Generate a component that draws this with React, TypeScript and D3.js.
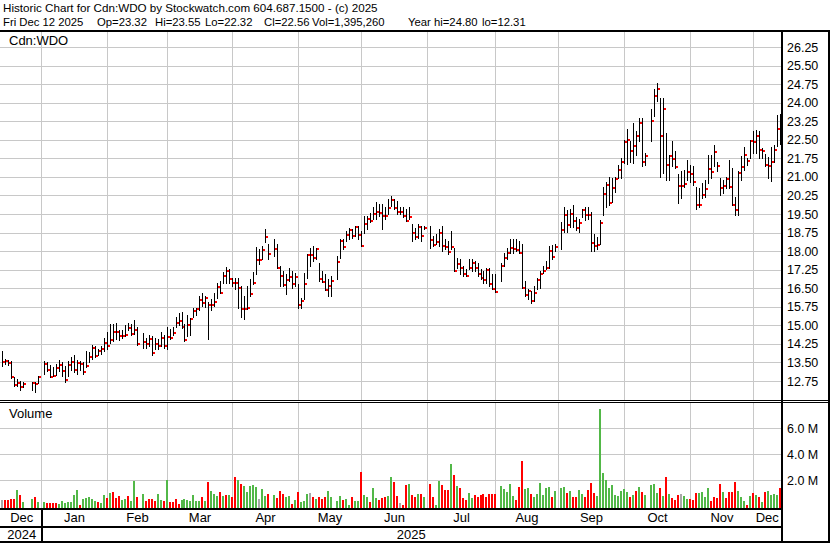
import React from "react";
import * as d3 from "d3";

// ---- Data (one slot per weekday, Dec 13 2024 .. Dec 12 2025; null = market holiday) ----
const highs: (number | null)[] = [
  // Dec 2024
  13.95, 13.62, 13.6, 13.55, 12.9, 12.82, 12.75, 12.72, null, null, 12.72, 12.7, 12.95,
  // Jan
  null, 13.55, 13.5, 13.38, 13.3, 13.45, 13.6, 13.5, 13.35, 13.55, 13.72, 13.82, 13.6, 13.55, 13.5, 13.95, 13.92, 14.2, 14.15, 14.05, 14.15, 14.5, 14.75,
  // Feb
  15.05, 15.05, 15.1, 14.8, 14.8, 15.0, 15.1, 15.05, 15.2, 14.95, null, 14.7, 14.5, 14.6, 14.55, 14.5, 14.45, 14.75, 14.6, 14.95,
  // Mar
  14.85, 14.95, 15.35, 15.5, 15.55, 15.05, 15.4, 15.3, 15.7, 15.7, 16.2, 16.3, 16.2, 15.95, 16.05, 16.3, 16.72, 16.8, 17.15, 17.35, 17.28,
  // Apr
  16.93, 16.93, 16.93, 16.6, 16.2, 16.6, 16.87, 17.14, 18.15, 18.08, 18.22, 18.9, 18.29, null, 18.49, 18.29, 17.4, 17.2, 17.06, 17.33, 17.2, 17.13,
  // May
  16.66, 16.12, 17.13, 17.87, 18.14, 18.21, 18.14, 17.51, 17.2, 17.06, 16.86, 17.0, null, 17.8, 18.48, 18.48, 18.82, 18.95, 18.89, 19.02, 19.02, 18.82,
  // Jun
  19.43, 19.43, 19.56, 19.77, 19.97, 19.9, 19.9, 19.77, 20.1, 20.24, 20.1, 20.03, 19.77, 19.77, 19.7, 19.77, 19.09, 18.95, 19.09, 19.02, 19.02,
  // Jul
  null, 19.02, 18.62, 18.68, 18.89, 19.02, 18.48, 18.41, 18.82, 18.14, 17.74, 17.67, 17.4, 17.26, 17.7, 17.67, 17.6, 17.53, 17.26, 17.2, 17.33, 17.33, 17.06,
  // Aug
  17.06, null, 17.53, 17.94, 18.14, 18.48, 18.48, 18.48, 18.41, 18.28, 16.79, 16.45, 16.39, 16.59, 16.92, 17.2, 17.4, 17.6, 18.2, 18.23, 18.3,
  // Sep
  null, 19.18, 19.79, 19.65, 19.72, 19.86, 19.38, 19.31, 19.72, 19.79, 19.79, 19.58, 18.7, 18.57, 19.24, 20.6, 20.81, 21.01, 20.94, 21.01, 21.49, 21.76,
  // Oct
  22.51, 22.92, 22.44, 23.19, 22.85, 23.39, 23.39, 21.96, null, 23.73, 24.55, 24.8, 24.17, 24.17, 22.78, 21.9, 22.44, 22.03, 21.12, 21.22, 21.28, 21.69, 21.49,
  // Nov
  21.42, 20.6, 20.54, 20.74, 20.88, 21.9, 21.9, 22.3, 21.62, 20.94, 20.88, 21.01, 21.69, 21.35, 20.2, 21.22, 21.83, 22.2, 21.75, 22.51,
  // Dec
  22.85, 22.9, 22.85, 22.17, 21.93, 21.8, 22.2, 22.3, 23.5, 23.55,
];

const lows: (number | null)[] = [
  13.35, 13.42, 13.38, 12.88, 12.55, 12.55, 12.4, 12.52, null, null, 12.4, 12.31, 12.68,
  null, 13.05, 13.15, 12.9, 12.95, 12.98, 13.15, 12.95, 12.7, 12.95, 13.2, 13.1, 13.05, 13.18, 13.05, 13.3, 13.5, 13.62, 13.7, 13.8, 13.85, 13.95, 14.05,
  14.3, 14.35, 14.45, 14.4, 14.5, 14.55, 14.8, 14.6, 14.65, 14.2, null, 14.1, 14.1, 14.15, 13.8, 14.05, 14.05, 14.15, 14.1, 14.05,
  14.45, 14.6, 14.95, 15.0, 14.9, 14.35, 14.55, 14.6, 15.35, 15.4, 15.6, 15.8, 15.75, 14.45, 15.6, 15.8, 16.1, 16.3, 16.7, 16.7, 16.7,
  16.6, 16.45, 15.72, 15.32, 15.25, 15.65, 16.2, 16.69, 17.07, 17.47, 17.68, 18.35, 17.68, null, 17.81, 17.31, 16.59, 16.59, 16.25, 16.79, 16.52, 16.59,
  15.71, 15.71, 16.05, 16.92, 17.4, 17.6, 17.67, 16.79, 16.75, 16.41, 16.18, 16.18, null, 16.86, 17.74, 18.07, 18.41, 18.48, 18.55, 18.62, 18.48, 18.21,
  18.75, 18.89, 19.16, 19.29, 19.29, 19.43, 18.89, 19.29, 19.49, 19.83, 19.7, 19.49, 19.49, 19.36, 19.22, 19.29, 18.41, 18.48, 18.55, 18.41, 18.89,
  null, 18.14, 18.21, 18.28, 18.21, 18.0, 18.07, 17.87, 18.07, 17.2, 17.33, 17.06, 16.99, 16.99, 17.26, 17.2, 17.2, 16.99, 16.86, 16.72, 16.72, 16.59, 16.45,
  16.35, null, 16.79, 17.4, 17.67, 17.94, 17.94, 18.0, 17.94, 16.52, 16.18, 16.05, 15.91, 15.98, 16.45, 16.52, 17.13, 17.26, 17.3, 17.68, 18.02,
  null, 18.09, 18.77, 18.77, 18.97, 18.97, 18.84, 18.77, 19.38, 19.24, 19.31, 18.02, 18.02, 18.09, 18.3, 19.45, 19.79, 19.86, 19.99, 20.4, 20.94, 20.94,
  21.56, 21.53, 21.62, 21.56, 21.9, 22.44, 21.42, 21.49, null, 22.44, 23.46, 24.07, 21.01, 21.15, 20.88, 20.88, 21.42, 21.35, 19.93, 20.13, 20.6, 20.88, 20.81,
  20.67, 19.72, 19.79, 20.13, 20.2, 20.74, 20.94, 21.42, 21.22, 20.27, 20.33, 20.54, 20.54, 19.86, 19.45, 19.45, 20.88, 21.28, 21.5, 21.76,
  21.96, 21.96, 21.76, 21.76, 21.42, 20.95, 20.85, 21.62, 22.25, 22.32,
];

const closes: (number | null)[] = [
  13.52, 13.55, 13.48, 12.92, 12.6, 12.65, 12.52, 12.62, null, null, 12.65, 12.63, 12.9,
  null, 13.45, 13.2, 12.93, 12.96, 13.27, 13.4, 13.17, 12.8, 13.4, 13.53, 13.2, 13.49, 13.44, 13.1, 13.37, 13.7, 14.1, 13.75, 13.95, 14.05, 14.3, 14.15,
  14.4, 14.75, 14.72, 14.58, 14.58, 14.62, 14.88, 14.65, 14.82, 14.25, null, 14.34, 14.23, 14.44, 13.9, 14.26, 14.17, 14.5, 14.17, 14.53,
  14.47, 14.67, 15.11, 15.18, 14.94, 14.41, 15.0, 15.25, 15.58, 15.65, 16.03, 15.92, 16.12, 15.82, 15.82, 15.95, 16.56, 16.3, 16.98, 17.18, 16.88,
  16.73, 16.71, 16.52, 15.68, 15.68, 15.72, 16.26, 16.7, 17.65, 17.65, 18.06, 18.58, 17.9, null, 18.08, 17.31, 17.0, 16.63, 16.83, 16.95, 16.67, 16.95,
  15.82, 15.97, 16.67, 17.83, 17.83, 17.74, 18.07, 16.86, 16.75, 16.41, 16.59, 16.78, null, 17.56, 18.41, 18.16, 18.64, 18.84, 18.62, 18.98, 18.64, 18.21,
  19.09, 19.29, 19.22, 19.49, 19.6, 19.56, 19.43, 19.43, 19.76, 20.06, 19.75, 19.59, 19.59, 19.43, 19.22, 19.36, 18.75, 18.57, 18.98, 18.62, 18.93,
  null, 18.45, 18.25, 18.35, 18.72, 18.21, 18.17, 17.97, 18.17, 17.2, 17.49, 17.33, 17.06, 16.99, 17.33, 17.53, 17.33, 17.09, 16.92, 16.83, 17.24, 16.68, 16.45,
  16.35, null, 17.4, 17.74, 17.94, 18.14, 18.07, 18.05, 17.94, 16.52, 16.22, 16.39, 15.98, 16.32, 16.83, 17.06, 17.2, 17.33, 18.0, 17.75, 18.16,
  null, 18.84, 19.45, 19.04, 19.49, 19.22, 18.93, 19.14, 19.65, 19.45, 19.45, 18.34, 18.2, 18.25, 19.14, 20.3, 20.67, 19.95, 20.54, 20.92, 21.28, 21.62,
  22.4, 22.48, 22.03, 22.26, 22.64, 23.19, 21.62, 21.83, null, 23.26, 24.27, 24.55, 22.67, 23.73, 21.49, 21.83, 21.73, 21.41, 20.63, 20.63, 20.71, 21.18, 21.11,
  20.8, 19.87, 19.87, 20.28, 20.5, 21.31, 21.18, 21.99, 21.42, 20.56, 20.63, 20.93, 20.6, 19.87, 19.65, 21.15, 21.38, 21.9, 21.63, 22.44,
  22.4, 22.64, 22.1, 22.06, 21.5, 21.45, 21.6, 22.09, 22.95, 22.56,
];

// volume in millions of shares
const volumes: (number | null)[] = [
  0.46, 0.5, 0.5, 0.55, 0.55, 1.23, 0.85, 0.3, null, null, 0.55, 0.7, 0.3,
  null, 0.3, 0.22, 0.22, 0.22, 0.22, 0.12, 0.41, 0.25, 0.33, 0.33, 0.87, 1.23, 0.08, 0.56, 0.6, 0.67, 0.51, 0.36, 0.3, 0.23, 0.87, 0.64,
  0.97, 1.08, 0.59, 0.8, 0.46, 0.54, 0.8, 0.36, 1.9, 0.72, null, 0.9, 0.38, 0.51, 0.51, 0.38, 0.9, 0.46, 0.36, 2.0,
  0.33, 0.33, 0.56, 0.12, 0.46, 0.54, 0.46, 0.41, 0.85, 0.41, 0.41, 0.72, 0.41, 1.87, 1.15, 0.92, 0.8, 1.08, 0.8, 0.85, 0.85,
  0.72, 2.26, 2.0, 1.69, 1.54, 1.1, 1.54, 1.59, 1.44, 0.54, 1.31, 0.8, 0.92, null, 0.85, 0.64, 1.15, 0.92, 0.72, 0.8, 0.18, 0.46,
  1.08, 0.31, 0.41, 0.92, 1.0, 0.67, 0.54, 0.69, 0.56, 0.67, 1.18, 0.72, null, 0.41, 0.8, 0.46, 0.54, 0.1, 0.67, 0.36, 0.36, 2.64,
  0.85, 0.72, 0.3, 1.35, 0.6, 0.5, 0.6, 0.7, 0.8, 2.2, 1.87, 0.8, 0.2, 0.1, 1.62, 1.69, 0.85, 0.67, 0.9, 0.9, 0.69,
  null, 1.7, 0.67, 0.08, 1.95, 1.6, 1.2, 1.2, 3.23, 2.38, 1.54, 1.41, 0.64, 0.46, 0.97, 0.64, 0.85, 0.72, 0.85, 0.9, 0.72, 0.92, 0.92,
  0.92, null, 1.54, 1.33, 1.08, 1.69, 0.77, 0.46, 1.46, 3.46, 1.33, 1.41, 0.95, 0.72, 0.92, 1.77, 0.82, 1.41, 1.46, 0.72, 1.18,
  null, 1.41, 1.49, 1.03, 1.15, 0.72, 0.67, 1.23, 0.92, 0.72, 1.23, 1.79, 0.97, 0.77, 7.5, 2.51, 2.0, 1.36, 1.59, 0.85, 0.77, 1.15,
  1.31, 1.08, 0.72, 0.82, 1.15, 1.46, 1.08, 0.85, null, 1.62, 1.69, 1.03, 1.41, 0.77, 2.23, 0.92, 0.61, 0.46, 0.85, 0.92, 0.77, 0.54, 0.56,
  0.46, 1.0, 1.0, 1.08, 0.72, 1.38, 0.41, 0.69, 0.61, 1.69, 1.08, 0.61, 1.08, 1.08, 1.85, 1.18, 0.72, 0.38, 0.08, 0.77,
  0.97, 0.85, 0.69, 0.31, 1.08, 1.15, 0.85, 0.92, 0.85, 1.4,
];

// u = up day (green), d = down day (red), n = unchanged (grey), x = holiday
const volumeDirections: string[] = [
  "n d d d d u d u x x u d u",
  "x u d d d d u u u u u u u d u u u u u d u u d",
  "u d d d u u d u u d x u d d d d u u d u",
  "d d d d u u u u u u u d u d u u u d u d u",
  "d d u d u u u u u n u u d x u d d d u u d u",
  "d u u u n d u d d d u u x u u d u u d u u d",
  "u u d u u d d d u u d d n d d u d d u d u",
  "x d d u u d d d u d u d d d u u d d d d d d d",
  "d x u u u u u d d d u u d u u u u u u d u",
  "x u u d u d d u u d d d d u u u u u u u u u",
  "u u d u d u d u x u u u d u d u d d d n u u d",
  "d d u u u u d d d d u d d d d u u u d u",
  "d u d u d u u u u d",
].join(" ").split(" ");

const monthLabels = ["Dec", "Jan", "Feb", "Mar", "Apr", "May", "Jun", "Jul", "Aug", "Sep", "Oct", "Nov", "Dec"];
const monthGridIdx = [13, 35, 55, 77, 99, 120, 142, 165, 186, 208, 230, 251];
const yearLabels = ["2024", "2025"];
const priceTicks = [12.75, 13.5, 14.25, 15.0, 15.75, 16.5, 17.25, 18.0, 18.75, 19.5, 20.25, 21.0, 21.75, 22.5, 23.25, 24.0, 24.75, 25.5, 26.25];
const volumeTicks = [2, 4, 6];
const titleLine = "Historic Chart for Cdn:WDO by Stockwatch.com 604.687.1500 - (c) 2025";
const infoItems = ["Fri Dec 12 2025", "Op=23.32", "Hi=23.55", "Lo=22.32", "Cl=22.56", "Vol=1,395,260", "Year hi=24.80", "lo=12.31"];
const infoX = [3, 97, 155, 205, 264, 312, 408, 482];

const FONT = "'Liberation Sans', Arial, Helvetica, sans-serif";
const GRID = "#c8c8c8";
const UP = "#52b848";
const DOWN = "#ff0000";
const FLAT = "#a8a8a8";

export default function App() {
  const N = highs.length;
  const W = 830, H = 543;
  const plotL = 0, plotR = 781;
  const priceTop = 32, priceBot = 400;
  const volTop = 403, volBot = 508;

  const x = d3.scaleLinear().domain([0, 260]).range([2.1, 779.5]);
  const yP = d3.scaleLinear().domain([12.75, 26.25]).range([381, 47]);
  const yV = d3.scaleLinear().domain([0, 6]).range([506, 428]);

  const col = (i: number) => Math.round(x(i));
  const gridXs = monthGridIdx.map((i) => col(i) + 0.5);
  const bounds = [2, ...gridXs, plotR];

  const idx = d3.range(N);
  const dirColor = (d: string) => (d === "u" ? UP : d === "d" ? DOWN : FLAT);

  return (
    <div style={{ position: "fixed", left: 0, top: 0, width: W, height: H, background: "#fff" }}>
      <svg width={W} height={H} style={{ display: "block" }} fontFamily={FONT}>
        <rect x={0} y={0} width={W} height={H} fill="#fff" />

        {/* titles */}
        <text x={3} y={11.5} fontSize={11.65} fill="#000">{titleLine}</text>
        {infoItems.map((t, k) => (
          <text key={k} x={infoX[k]} y={25.5} fontSize={11.3} fill="#000">{t}</text>
        ))}

        <g shapeRendering="crispEdges">
          {/* price grid */}
          {priceTicks.map((p) => (
            <line key={"pg" + p} x1={plotL} x2={plotR} y1={Math.round(yP(p)) + 0.5} y2={Math.round(yP(p)) + 0.5} stroke={GRID} strokeWidth={1} />
          ))}
          {gridXs.map((gx, k) => (
            <line key={"vg" + k} x1={gx} x2={gx} y1={priceTop} y2={priceBot} stroke={GRID} strokeWidth={1} />
          ))}

          {/* volume grid */}
          {volumeTicks.map((v) => (
            <line key={"vgh" + v} x1={plotL} x2={plotR} y1={Math.round(yV(v)) + 0.5} y2={Math.round(yV(v)) + 0.5} stroke={GRID} strokeWidth={1} />
          ))}
          {gridXs.map((gx, k) => (
            <line key={"vgv" + k} x1={gx} x2={gx} y1={volTop} y2={volBot} stroke={GRID} strokeWidth={1} />
          ))}

          {/* volume bars */}
          {idx.filter((i) => volumes[i] != null).map((i) => {
            const top = Math.round(yV(volumes[i] as number));
            return (
              <rect key={"v" + i} x={col(i) - 1} y={top} width={2} height={volBot - top} fill={dirColor(volumeDirections[i])} />
            );
          })}

          {/* price bars */}
          {idx.filter((i) => highs[i] != null).map((i) => {
            const c = col(i);
            const yh = Math.round(yP(highs[i] as number));
            const yl = Math.round(yP(lows[i] as number));
            const yc = Math.round(yP(closes[i] as number));
            return (
              <g key={"p" + i}>
                <rect x={c} y={yh} width={1} height={Math.max(yl - yh, 2) + 1} fill="#000" />
                <rect x={c + 1} y={yc - 1} width={2} height={2} fill={DOWN} />
              </g>
            );
          })}

          {/* frame lines */}
          <rect x={0} y={30} width={W} height={2} fill="#000" />
          <rect x={0} y={400} width={W} height={1} fill="#000" />
          <rect x={0} y={402} width={W} height={1} fill="#000" />
          <rect x={0} y={508} width={plotR + 1} height={2} fill="#000" />
          <rect x={0} y={526} width={plotR + 1} height={2} fill="#000" />
          <rect x={0} y={541} width={W} height={2} fill="#000" />
          <rect x={781} y={30} width={2} height={H - 30} fill="#000" />
          <rect x={828} y={30} width={2} height={H - 30} fill="#000" />
          <rect x={gridXs[0] - 0.5} y={510} width={2} height={31} fill="#000" />
        </g>

        {/* panel labels */}
        <text x={9} y={45} fontSize={13} fill="#000">Cdn:WDO</text>
        <text x={9} y={418} fontSize={13} fill="#000">Volume</text>

        {/* price axis labels */}
        {priceTicks.map((p) => (
          <text key={"pl" + p} x={787} y={yP(p) + 4.6} fontSize={12.5} fill="#000">{p.toFixed(2)}</text>
        ))}
        {volumeTicks.map((v) => (
          <text key={"vl" + v} x={787} y={yV(v) + 4.6} fontSize={12.5} fill="#000">{v.toFixed(1) + " M"}</text>
        ))}

        {/* month labels */}
        {monthLabels.map((m, k) => (
          <text key={"m" + k} x={(bounds[k] + bounds[k + 1]) / 2} y={521.5} fontSize={13} textAnchor="middle" fill="#000">{m}</text>
        ))}
        {/* year labels */}
        <text x={(2 + gridXs[0]) / 2} y={539} fontSize={13} textAnchor="middle" fill="#000">{yearLabels[0]}</text>
        <text x={(gridXs[0] + plotR) / 2} y={539} fontSize={13} textAnchor="middle" fill="#000">{yearLabels[1]}</text>
      </svg>
    </div>
  );
}
